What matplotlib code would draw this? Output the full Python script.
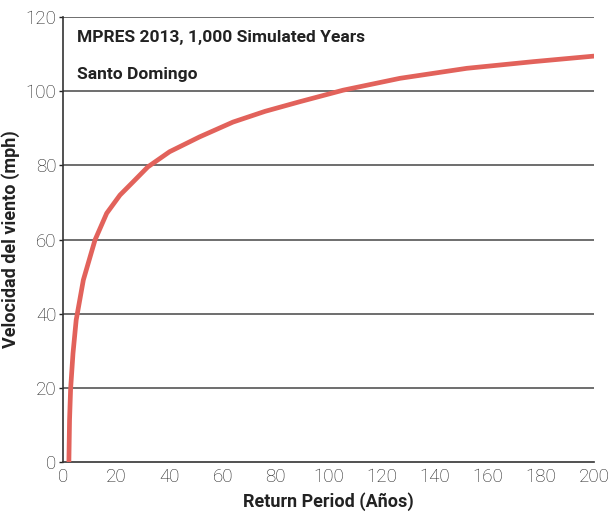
import matplotlib
matplotlib.use('Agg')
import matplotlib.pyplot as plt

# Return period curve
return_period = [2.05, 2.3, 2.7, 3.6, 4.8, 7.5, 11.9, 16.3, 21.3, 26.3, 31.8, 40, 51.3,
                 63.9, 76, 89.1, 105.4, 126.8, 152, 177.1, 200]
wind_speed = [0, 11.3, 19.7, 29.3, 38.3, 49.1, 59.9, 67.1, 72, 75.6, 79.6, 83.7, 87.7,
              91.7, 94.6, 97.2, 100.3, 103.5, 106.2, 108, 109.5]

x_ticks = [0, 20, 40, 60, 80, 100, 120, 140, 160, 180, 200]
y_ticks = [0, 20, 40, 60, 80, 100, 120]

plt.rcParams['font.family'] = ['Roboto', 'DejaVu Sans']

fig = plt.figure(figsize=(6.1, 5.2), dpi=100)
ax = fig.add_axes([0.104, 0.1115, 0.870, 0.8555])

# horizontal grid lines
for y in y_ticks[1:]:
    ax.axhline(y, color='#555555', lw=1.2, zorder=1)

ax.plot(return_period, wind_speed, color='#E2625B', lw=3.4,
        solid_capstyle='butt', solid_joinstyle='round', zorder=3)

ax.set_xlim(0, 200)
ax.set_ylim(0, 120)
ax.set_xticks(x_ticks)
ax.set_yticks(y_ticks)
ax.tick_params(axis='both', labelsize=13.5, colors='#222222', length=3, width=1)
ax.tick_params(axis='x', length=0, pad=4)
ax.tick_params(axis='y', pad=2)
for lbl in ax.get_xticklabels() + ax.get_yticklabels():
    lbl.set_fontweight('light')

for side in ['top', 'right']:
    ax.spines[side].set_visible(False)
for side in ['left', 'bottom']:
    ax.spines[side].set_color('#333333')
    ax.spines[side].set_linewidth(1.2)

ax.set_xlabel('Return Period (Años)', fontsize=13, fontweight='bold', color='#222222', labelpad=5)
ax.set_ylabel('Velocidad del viento (mph)', fontsize=13, fontweight='bold', color='#222222', labelpad=4)

ax.text(0.025, 0.9535, 'MPRES 2013, 1,000 Simulated Years', transform=ax.transAxes,
        fontsize=12.5, fontweight='bold', color='#222222', va='center')
ax.text(0.025, 0.872, 'Santo Domingo', transform=ax.transAxes,
        fontsize=12.5, fontweight='bold', color='#222222', va='center')

fig.savefig('out.png', dpi=100)
